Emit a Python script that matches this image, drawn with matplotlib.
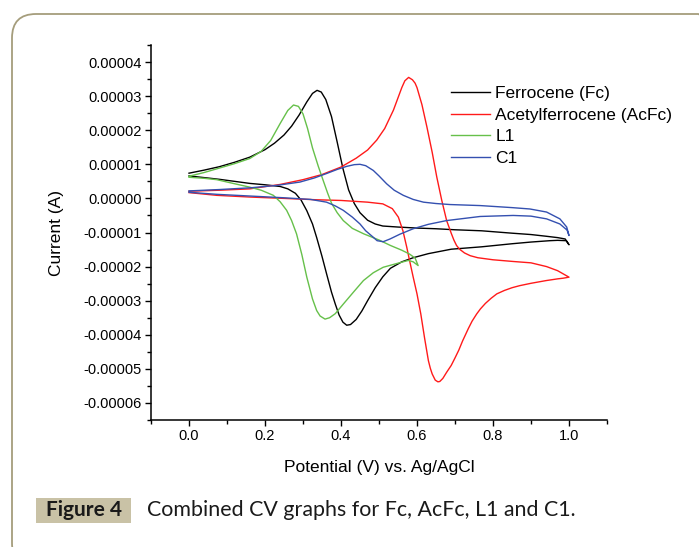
import numpy as np
import matplotlib
matplotlib.use("Agg")
import matplotlib.pyplot as plt
from matplotlib.patches import FancyBboxPatch, Rectangle
from matplotlib.ticker import FixedLocator, MultipleLocator

plt.rcParams['font.family'] = ['Liberation Sans', 'DejaVu Sans']

SCALE = 1e-5  # currents below are in units of 1e-5 A

# ---- Ferrocene (Fc) ----
fc_potential = [0.0, 0.04, 0.08, 0.12, 0.16, 0.20, 0.225, 0.25, 0.27, 0.29, 0.31, 0.325, 0.337, 0.348,
                0.36, 0.375, 0.39, 0.405, 0.42, 0.435, 0.45, 0.47, 0.49, 0.51, 0.55, 0.60, 0.65,
                0.70, 0.77, 0.85, 0.90, 0.94, 0.97, 0.99, 1.0,
                0.993, 0.97, 0.95, 0.90, 0.85, 0.77, 0.69, 0.63, 0.59, 0.56, 0.53, 0.51, 0.49,
                0.47, 0.455, 0.44, 0.425, 0.415, 0.405, 0.395, 0.385, 0.375, 0.362, 0.35, 0.336,
                0.325, 0.31, 0.295, 0.28, 0.26, 0.24, 0.20, 0.16, 0.12, 0.08, 0.04, 0.0]
fc_current = [0.74, 0.83, 0.93, 1.06, 1.21, 1.43, 1.62, 1.86, 2.12, 2.45, 2.83, 3.08, 3.17, 3.12,
              2.90, 2.40, 1.65, 0.88, 0.25, -0.15, -0.42, -0.64, -0.75, -0.81, -0.84, -0.87, -0.89,
              -0.92, -0.95, -1.02, -1.06, -1.11, -1.15, -1.19, -1.36,
              -1.24, -1.23, -1.24, -1.28, -1.33, -1.42, -1.49, -1.62, -1.74, -1.86, -2.05, -2.30, -2.62,
              -3.00, -3.30, -3.55, -3.70, -3.72, -3.63, -3.42, -3.10, -2.75, -2.21, -1.70, -1.15,
              -0.75, -0.36, -0.05, 0.15, 0.28, 0.35, 0.40, 0.44, 0.50, 0.56, 0.61, 0.66]

# ---- Acetylferrocene (AcFc) ----
acfc_potential = [0.0, 0.08, 0.16, 0.24, 0.30, 0.35, 0.40, 0.44, 0.47, 0.494, 0.515, 0.538, 0.55,
                  0.56, 0.568, 0.578, 0.588, 0.595, 0.60, 0.613, 0.626, 0.64, 0.652, 0.665, 0.678,
                  0.69, 0.697, 0.704, 0.712, 0.725, 0.74, 0.76, 0.80, 0.853, 0.90, 0.941, 0.97, 1.0,
                  0.985, 0.97, 0.94, 0.90, 0.87, 0.85, 0.83, 0.81, 0.795, 0.78, 0.767, 0.757, 0.745,
                  0.735, 0.72, 0.71, 0.70, 0.69, 0.678, 0.668, 0.66, 0.655, 0.648, 0.64, 0.635,
                  0.63, 0.62, 0.61, 0.60, 0.59, 0.58, 0.573, 0.563, 0.551, 0.535,
                  0.51, 0.47, 0.40, 0.336, 0.25, 0.16, 0.073, 0.0]
acfc_current = [0.21, 0.24, 0.28, 0.41, 0.55, 0.70, 0.92, 1.18, 1.42, 1.71, 2.05, 2.59, 2.95,
                3.25, 3.45, 3.55, 3.48, 3.38, 3.25, 2.75, 2.10, 1.35, 0.63, -0.05, -0.65,
                -1.02, -1.22, -1.38, -1.49, -1.60, -1.68, -1.74, -1.80, -1.85, -1.89, -2.00, -2.12, -2.31,
                -2.34, -2.36, -2.41, -2.49, -2.56, -2.62, -2.70, -2.80, -2.93, -3.08, -3.24, -3.39, -3.60,
                -3.82, -4.18, -4.45, -4.68, -4.90, -5.10, -5.28, -5.37, -5.38, -5.33, -5.15, -4.98,
                -4.76, -4.10, -3.39, -2.80, -2.31, -1.80, -1.43, -0.95, -0.55, -0.30,
                -0.16, -0.11, -0.06, -0.04, 0.00, 0.04, 0.09, 0.17]

# ---- L1 ----
l1_potential = [0.0, 0.04, 0.08, 0.12, 0.16, 0.19, 0.215, 0.24, 0.26, 0.275, 0.288, 0.30, 0.312,
                0.325, 0.34, 0.353, 0.365, 0.375, 0.39, 0.406, 0.43, 0.46, 0.50, 0.53, 0.56, 0.58,
                0.595, 0.603,
                0.59, 0.577, 0.55, 0.511, 0.485, 0.459, 0.435, 0.406, 0.385, 0.37, 0.358, 0.345,
                0.336, 0.325, 0.31, 0.297, 0.283, 0.27, 0.257, 0.24, 0.222, 0.19, 0.16, 0.12,
                0.073, 0.04, 0.0]
l1_current = [0.65, 0.76, 0.89, 1.02, 1.17, 1.38, 1.70, 2.20, 2.58, 2.74, 2.70, 2.48, 2.05,
              1.48, 0.95, 0.53, 0.15, -0.14, -0.42, -0.65, -0.88, -1.04, -1.22, -1.38, -1.52, -1.63,
              -1.75, -1.97,
              -1.86, -1.82, -1.90, -2.02, -2.18, -2.41, -2.72, -3.10, -3.38, -3.50, -3.54, -3.45,
              -3.29, -2.95, -2.31, -1.65, -1.04, -0.65, -0.35, -0.10, 0.09, 0.24, 0.33, 0.43,
              0.55, 0.59, 0.62]

# ---- C1 ----
c1_potential = [0.0, 0.08, 0.16, 0.23, 0.292, 0.33, 0.362, 0.39, 0.415, 0.435, 0.45, 0.465, 0.485,
                0.50, 0.52, 0.54, 0.564, 0.59, 0.617, 0.65, 0.687, 0.766, 0.85, 0.897, 0.941, 0.976,
                0.994, 1.0,
                0.995, 0.976, 0.941, 0.90, 0.853, 0.766, 0.678, 0.63, 0.59, 0.555, 0.529, 0.511,
                0.495, 0.485, 0.465, 0.45, 0.43, 0.406, 0.385, 0.362, 0.32, 0.248, 0.16, 0.073, 0.0]
c1_current = [0.22, 0.26, 0.31, 0.38, 0.48, 0.60, 0.73, 0.85, 0.94, 0.99, 1.00, 0.96, 0.82,
              0.66, 0.43, 0.24, 0.09, -0.03, -0.11, -0.15, -0.18, -0.21, -0.27, -0.31, -0.40, -0.60,
              -0.84, -1.09,
              -0.93, -0.75, -0.60, -0.52, -0.50, -0.53, -0.65, -0.76, -0.89, -1.05, -1.19, -1.27,
              -1.24, -1.14, -0.95, -0.75, -0.55, -0.35, -0.22, -0.11, -0.03, 0.02, 0.07, 0.12, 0.18]

series_labels = ["Ferrocene (Fc)", "Acetylferrocene (AcFc)", "L1", "C1"]
series_colors = ["#000000", "#ff1a1a", "#66c04a", "#3450b0"]

xtick_values = [0.0, 0.2, 0.4, 0.6, 0.8, 1.0]
xtick_labels = ["0.0", "0.2", "0.4", "0.6", "0.8", "1.0"]
ytick_values = [4e-5, 3e-5, 2e-5, 1e-5, 0.0, -1e-5, -2e-5, -3e-5, -4e-5, -5e-5, -6e-5]
ytick_labels = ["0.00004", "0.00003", "0.00002", "0.00001", "0.00000", "-0.00001",
                "-0.00002", "-0.00003", "-0.00004", "-0.00005", "-0.00006"]

W, H = 699, 547
fig = plt.figure(figsize=(W / 100, H / 100), dpi=100)
fig.patch.set_facecolor("white")

# rounded outer frame (display pixel coords)
frame = FancyBboxPatch((12, -20), 710, H - 14 + 20,
                       boxstyle="round,pad=0,rounding_size=24",
                       transform=None, facecolor="none", edgecolor="#a59d7c", lw=1.3)
fig.add_artist(frame)

ax = fig.add_axes([151 / W, (H - 420) / H, 456 / W, 375 / H])
series = [(fc_potential, fc_current), (acfc_potential, acfc_current),
          (l1_potential, l1_current), (c1_potential, c1_current)]
for (xp, yc), lab, col in zip(series, series_labels, series_colors):
    ax.plot(xp, np.array(yc) * SCALE, color=col, lw=1.0, label=lab,
            solid_joinstyle="round")

ax.set_xlim(-0.1, 1.1)
ax.set_ylim(-6.5e-5, 4.5e-5)
for s in ["top", "right"]:
    ax.spines[s].set_visible(False)
for s in ["left", "bottom"]:
    ax.spines[s].set_linewidth(1.1)

ax.xaxis.set_major_locator(FixedLocator(xtick_values))
ax.set_xticklabels(xtick_labels)
ax.xaxis.set_minor_locator(MultipleLocator(0.1))
ax.yaxis.set_major_locator(FixedLocator(ytick_values))
ax.set_yticklabels(ytick_labels)
ax.yaxis.set_minor_locator(MultipleLocator(0.5e-5))
ax.tick_params(axis="both", which="major", direction="out", length=4.5, width=1.0,
               labelsize=10.5, pad=2)
ax.tick_params(axis="both", which="minor", direction="out", length=3, width=1.0)

ax.set_xlabel("Potential (V) vs. Ag/AgCl", fontsize=12.5, labelpad=12)
ax.set_ylabel("Current (A)", fontsize=12.5, labelpad=14)

leg = ax.legend(loc="upper left", bbox_to_anchor=(451 / W, (H - 86) / H),
                bbox_transform=fig.transFigure, frameon=False, fontsize=12.5,
                handlelength=2.25, handletextpad=0.3, labelspacing=0.37,
                borderpad=0, borderaxespad=0)
for ln in leg.get_lines():
    ln.set_linewidth(1.0)

# caption
fig.add_artist(Rectangle((36, H - 523), 95, 25, transform=None,
                         facecolor="#c9c2a6", edgecolor="none"))
fig.text(83.5 / W, (H - 510.5) / H, "Figure 4", fontsize=15, fontweight="bold",
         family=["Lato", "DejaVu Sans"], color="#1a1a1a", ha="center", va="center")
fig.text(147 / W, (H - 510.5) / H, "Combined CV graphs for Fc, AcFc, L1 and C1.",
         fontsize=15.4, family=["Lato", "DejaVu Sans"], color="#1a1a1a",
         ha="left", va="center")

fig.savefig("out.png", dpi=100)
